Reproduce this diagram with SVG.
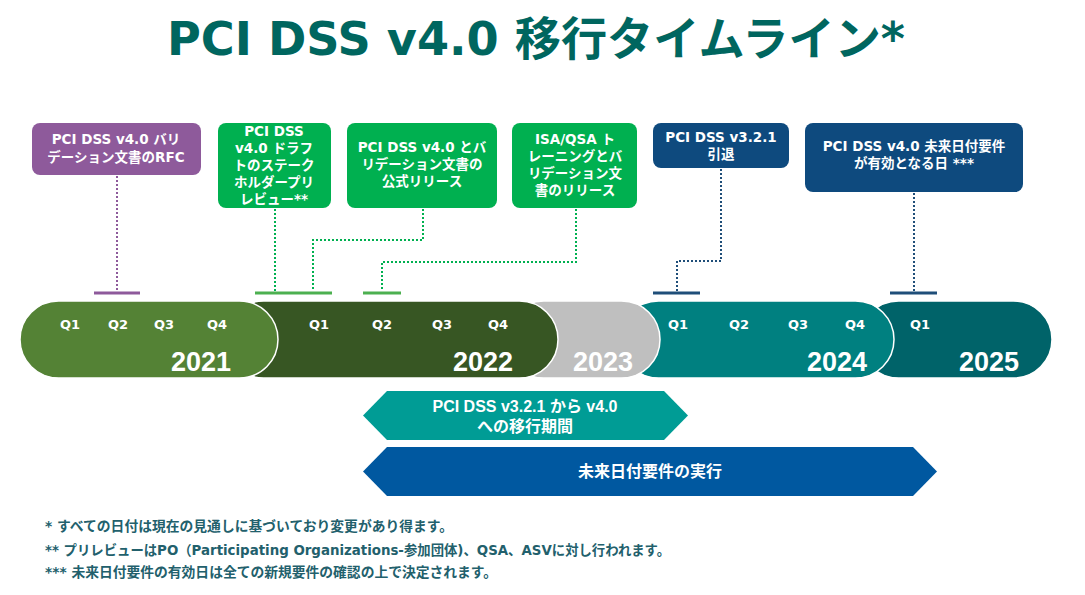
<svg xmlns="http://www.w3.org/2000/svg" width="1085" height="595" viewBox="0 0 1085 595">
<defs>
<style>
.title{font-family:"DejaVu Sans","Noto Sans CJK JP",sans-serif;font-weight:bold;font-size:46px;fill:#00665f}
.bt{font-family:"DejaVu Sans","Noto Sans CJK JP",sans-serif;font-weight:bold;font-size:13.5px;fill:#fff;text-anchor:middle}
.q{font-family:"DejaVu Sans","Noto Sans CJK JP",sans-serif;font-weight:bold;font-size:13px;fill:#fff;text-anchor:middle}
.yr{font-family:"Liberation Sans",Arial,sans-serif;font-weight:bold;font-size:27px;fill:#fff;text-anchor:middle}
.at{font-family:"Liberation Sans","Noto Sans CJK JP",sans-serif;font-weight:bold;font-size:16px;fill:#fff;text-anchor:middle}
.fn{font-family:"DejaVu Sans","Noto Sans CJK JP",sans-serif;font-weight:bold;font-size:13.5px;fill:#22606c}
.pill{stroke:#fff;stroke-width:1.5}
.dp{fill:none;stroke:#8e5a9b;stroke-width:2;stroke-dasharray:2 2}
.dg{fill:none;stroke:#00b050;stroke-width:2;stroke-dasharray:2 2}
.dn{fill:none;stroke:#1f4e79;stroke-width:2;stroke-dasharray:2 2}
</style>
</defs>
<rect width="1085" height="595" fill="#fff"/>
<text class="title" x="167" y="55" textLength="738" lengthAdjust="spacingAndGlyphs">PCI DSS v4.0 移行タイムライン*</text>

<g id="connectors">
<path class="dp" d="M117 176 V291"/>
<rect x="94" y="291.5" width="46" height="3" fill="#8e5a9b"/>
<path class="dg" d="M275 209 V291"/>
<path class="dg" d="M423 209 V240 H313 V291"/>
<rect x="255" y="291.5" width="77" height="3" fill="#4cb050"/>
<path class="dg" d="M576 209 V262 H382 V291"/>
<rect x="363" y="291.5" width="38" height="3" fill="#4cb050"/>
<path class="dn" d="M721 169 V261 H677 V291"/>
<rect x="653" y="291.5" width="47" height="3" fill="#1f4e79"/>
<path class="dn" d="M914 193 V291"/>
<rect x="890" y="291.5" width="47" height="3" fill="#1f4e79"/>
</g>

<g id="box-rfc">
<rect x="32" y="123" width="169" height="52" rx="8" fill="#8e5a9b"/>
<text class="bt" x="116" y="144">PCI DSS v4.0 バリ</text>
<text class="bt" x="116" y="162">デーション文書のRFC</text>
</g>
<g id="box-draft">
<rect x="218" y="123" width="113" height="85" rx="8" fill="#00b050"/>
<text class="bt" x="274" y="136">PCI DSS</text>
<text class="bt" x="274" y="153">v4.0 ドラフ</text>
<text class="bt" x="274" y="170">トのステーク</text>
<text class="bt" x="274" y="187">ホルダープリ</text>
<text class="bt" x="274" y="204">レビュー**</text>
</g>
<g id="box-release">
<rect x="347" y="123" width="150" height="85" rx="8" fill="#00b050"/>
<text class="bt" x="422" y="152">PCI DSS v4.0 とバ</text>
<text class="bt" x="422" y="169">リデーション文書の</text>
<text class="bt" x="422" y="186">公式リリース</text>
</g>
<g id="box-training">
<rect x="512" y="123" width="125" height="85" rx="8" fill="#00b050"/>
<text class="bt" x="575" y="144">ISA/QSA ト</text>
<text class="bt" x="575" y="161">レーニングとバ</text>
<text class="bt" x="575" y="178">リデーション文</text>
<text class="bt" x="575" y="195">書のリリース</text>
</g>
<g id="box-retire">
<rect x="653" y="123" width="136" height="45" rx="8" fill="#0e4a7e"/>
<text class="bt" x="721" y="142">PCI DSS v3.2.1</text>
<text class="bt" x="721" y="159">引退</text>
</g>
<g id="box-future">
<rect x="805" y="123" width="218" height="69" rx="8" fill="#0e4a7e"/>
<text class="bt" x="914" y="151">PCI DSS v4.0 未来日付要件</text>
<text class="bt" x="914" y="168">が有効となる日 ***</text>
</g>

<g id="y2025">
<rect class="pill" x="860" y="301" width="192" height="77" rx="38.5" fill="#006369"/>
<text class="q" x="920" y="329">Q1</text>
<text class="yr" x="989" y="371">2025</text>
</g>
<g id="y2024">
<rect class="pill" x="620" y="301" width="274" height="77" rx="38.5" fill="#008080"/>
<text class="q" x="678" y="329">Q1</text>
<text class="q" x="739" y="329">Q2</text>
<text class="q" x="798" y="329">Q3</text>
<text class="q" x="855" y="329">Q4</text>
<text class="yr" x="837" y="371">2024</text>
</g>
<g id="y2023">
<rect class="pill" x="505" y="301" width="155" height="77" rx="38.5" fill="#bfbfbf"/>
<text class="yr" x="603" y="371" fill="#f2f2f2">2023</text>
</g>
<g id="y2022">
<rect class="pill" x="225" y="301" width="333" height="77" rx="38.5" fill="#375623"/>
<text class="q" x="319" y="329">Q1</text>
<text class="q" x="382" y="329">Q2</text>
<text class="q" x="442" y="329">Q3</text>
<text class="q" x="498" y="329">Q4</text>
<text class="yr" x="483" y="371">2022</text>
</g>
<g id="y2021">
<rect class="pill" x="20" y="301" width="258" height="77" rx="38.5" fill="#548235"/>
<text class="q" x="70" y="329">Q1</text>
<text class="q" x="118" y="329">Q2</text>
<text class="q" x="164" y="329">Q3</text>
<text class="q" x="217" y="329">Q4</text>
<text class="yr" x="201" y="371">2021</text>
</g>

<g id="arrow-transition">
<polygon points="363,415.5 387,391 664,391 688,415.5 664,440 387,440" fill="#009c95"/>
<text class="at" x="525" y="412">PCI DSS v3.2.1 から v4.0</text>
<text class="at" x="525" y="432">への移行期間</text>
</g>
<g id="arrow-future">
<polygon points="363,471.5 387,447 913,447 937,471.5 913,496 387,496" fill="#0058a0"/>
<text class="at" x="650" y="477">未来日付要件の実行</text>
</g>

<g id="footnotes">
<text class="fn" x="45" y="531" textLength="408" lengthAdjust="spacingAndGlyphs">* すべての日付は現在の見通しに基づいており変更があり得ます。</text>
<text class="fn" x="45" y="555" textLength="625" lengthAdjust="spacingAndGlyphs">** プリレビューはPO（Participating Organizations-参加団体)、QSA、ASVに対し行われます。</text>
<text class="fn" x="45" y="577" textLength="452" lengthAdjust="spacingAndGlyphs">*** 未来日付要件の有効日は全ての新規要件の確認の上で決定されます。</text>
</g>
</svg>
